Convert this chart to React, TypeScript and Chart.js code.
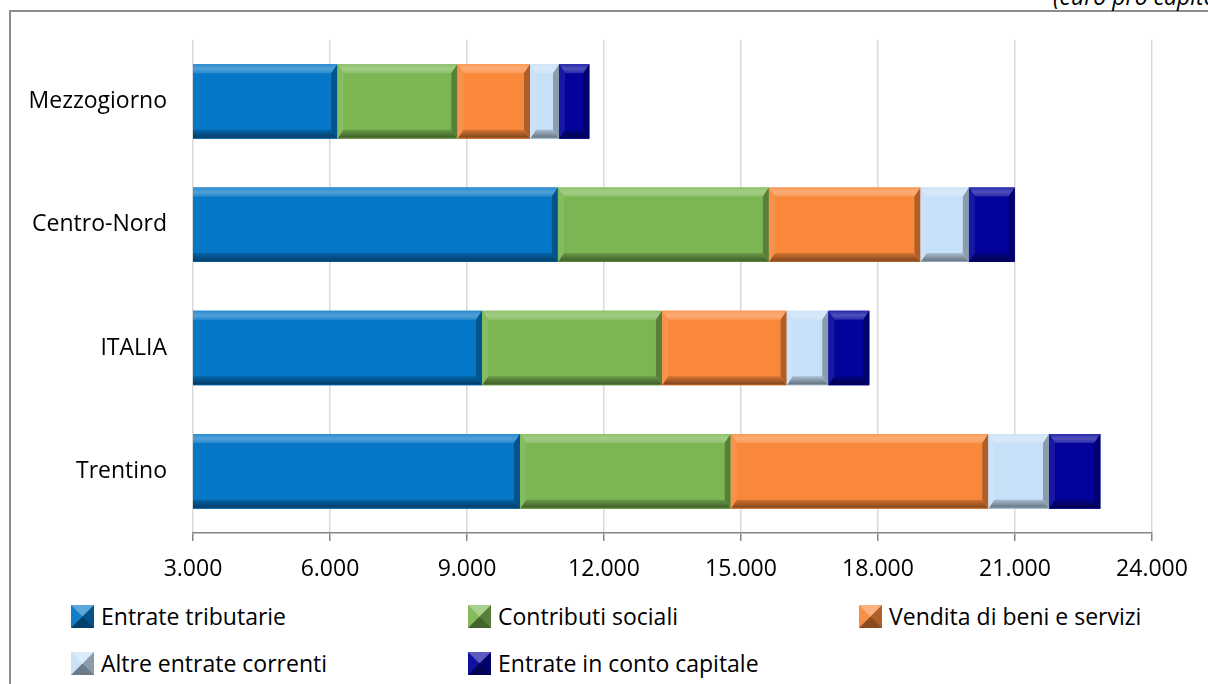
import React, { useEffect, useRef } from 'react';
import { Chart, registerables } from 'chart.js';

Chart.register(...registerables);

// ---- data ----
const categories = ['Mezzogiorno', 'Centro-Nord', 'ITALIA', 'Trentino'];
const seriesNames = [
  'Entrate tributarie',
  'Contributi sociali',
  'Vendita di beni e servizi',
  'Altre entrate correnti',
  'Entrate in conto capitale',
];
const entrateTributarie = [6160, 10990, 9330, 10160];
const contributiSociali = [2630, 4620, 3940, 4615];
const venditaBeniServizi = [1590, 3320, 2730, 5640];
const altreEntrateCorrenti = [635, 1060, 910, 1330];
const entrateContoCapitale = [665, 1005, 900, 1125];
const seriesValues = [
  entrateTributarie,
  contributiSociali,
  venditaBeniServizi,
  altreEntrateCorrenti,
  entrateContoCapitale,
];
const seriesColors = ['#0677C7', '#7CB652', '#F9883B', '#C6E0F7', '#03039C'];
const axisMin = 3000;
const axisMax = 24000;
const axisStep = 3000;
const unitNote = '(euro pro capite)';

// ---- helpers ----
const FONT = '"Open Sans", "Noto Sans", sans-serif';
const W = 1208;
const CH = 600;

function shade(hex: string, amt: number): string {
  const n = parseInt(hex.slice(1), 16);
  let r = (n >> 16) & 255;
  let g = (n >> 8) & 255;
  let b = n & 255;
  if (amt >= 0) {
    r = r + (255 - r) * amt;
    g = g + (255 - g) * amt;
    b = b + (255 - b) * amt;
  } else {
    r = r * (1 + amt);
    g = g * (1 + amt);
    b = b * (1 + amt);
  }
  return `rgb(${Math.round(r)},${Math.round(g)},${Math.round(b)})`;
}

function fmt(v: number | string): string {
  const s = Math.round(Number(v)).toString();
  return s.replace(/\B(?=(\d{3})+(?!\d))/g, '.');
}

const bevelPlugin = {
  id: 'bevel',
  afterDatasetsDraw(chart: any) {
    const ctx: CanvasRenderingContext2D = chart.ctx;
    const a = chart.chartArea;
    ctx.save();
    ctx.beginPath();
    ctx.rect(a.left, a.top, a.right - a.left, a.bottom - a.top);
    ctx.clip();
    const poly = (pts: number[][], fill: any) => {
      ctx.beginPath();
      ctx.moveTo(pts[0][0], pts[0][1]);
      for (let i = 1; i < pts.length; i++) ctx.lineTo(pts[i][0], pts[i][1]);
      ctx.closePath();
      ctx.fillStyle = fill;
      ctx.fill();
    };
    chart.data.datasets.forEach((ds: any, i: number) => {
      const meta = chart.getDatasetMeta(i);
      const col = ds.backgroundColor as string;
      meta.data.forEach((el: any) => {
        const p = el.getProps(['x', 'y', 'base', 'height'], true);
        const L = Math.min(p.x, p.base);
        const R = Math.max(p.x, p.base);
        const T = p.y - p.height / 2;
        const B = p.y + p.height / 2;
        const w = R - L;
        const bv = Math.min(9, p.height / 2);
        const bh = Math.min(6, w / 2);
        // top
        const gt = ctx.createLinearGradient(0, T, 0, T + bv);
        gt.addColorStop(0, shade(col, 0.15));
        gt.addColorStop(0.5, shade(col, 0.3));
        gt.addColorStop(1, shade(col, 0.15));
        poly([[L, T], [R, T], [R - bh, T + bv], [L + bh, T + bv]], gt);
        // bottom
        const gb = ctx.createLinearGradient(0, B - bv, 0, B);
        gb.addColorStop(0, shade(col, -0.15));
        gb.addColorStop(0.8, shade(col, -0.45));
        gb.addColorStop(1, shade(col, -0.2));
        poly([[L, B], [R, B], [R - bh, B - bv], [L + bh, B - bv]], gb);
        // left
        poly([[L, T], [L + bh, T + bv], [L + bh, B - bv], [L, B]], shade(col, 0.08));
        // right
        poly([[R, T], [R - bh, T + bv], [R - bh, B - bv], [R, B]], shade(col, -0.3));
      });
    });
    ctx.restore();
  },
};

const legendCols = [71, 468, 859];
const legendRows = [616, 663];

export default function App() {
  const ref = useRef<HTMLCanvasElement>(null);

  useEffect(() => {
    if (!ref.current) return;
    const font = { family: FONT, size: 23 };
    const chart = new Chart(ref.current, {
      type: 'bar',
      data: {
        labels: categories,
        datasets: seriesNames.map((name, i) => ({
          label: name,
          data: seriesValues[i],
          backgroundColor: seriesColors[i],
          borderWidth: 0,
          barPercentage: 0.605,
          categoryPercentage: 1,
        })),
      },
      options: {
        indexAxis: 'y',
        animation: false,
        responsive: false,
        maintainAspectRatio: false,
        layout: { padding: { left: 0, top: 38, right: 56, bottom: 0 } },
        plugins: {
          legend: { display: false },
          tooltip: { enabled: false },
          title: { display: false },
        },
        scales: {
          x: {
            type: 'linear',
            stacked: true,
            min: axisMin,
            max: axisMax,
            ticks: {
              stepSize: axisStep,
              callback: (v: any) => fmt(v),
              font,
              color: '#000',
              padding: 15,
              maxRotation: 0,
              autoSkip: false,
            },
            grid: {
              color: '#d9d9d9',
              lineWidth: 1.5,
              tickColor: '#868686',
              tickLength: 8,
              tickWidth: 1.5,
            },
            border: { color: '#868686', width: 1.5 },
            afterFit: (s: any) => {
              s.height = CH - 533;
            },
          },
          y: {
            stacked: true,
            grid: { display: false, drawTicks: false },
            border: { display: false },
            ticks: { font, color: '#000', padding: 26 },
            afterFit: (s: any) => {
              s.width = 193;
            },
          },
        },
      } as any,
      plugins: [bevelPlugin],
    });
    return () => chart.destroy();
  }, []);

  return (
    <div
      style={{
        position: 'fixed',
        left: 0,
        top: 0,
        width: W,
        height: 684,
        overflow: 'hidden',
        background: '#fff',
        fontFamily: FONT,
      }}
    >
      <div
        style={{
          position: 'absolute',
          left: 9,
          top: 10,
          width: 1400,
          height: 900,
          border: '2px solid #8c8c8c',
          boxSizing: 'border-box',
        }}
      />
      <span
        style={{
          position: 'absolute',
          left: 1053,
          top: -15,
          fontStyle: 'italic',
          fontSize: 23,
          lineHeight: '22px',
          whiteSpace: 'nowrap',
          color: '#000',
        }}
      >
        {unitNote}
      </span>
      <canvas
        ref={ref}
        width={W}
        height={CH}
        style={{ position: 'absolute', left: 0, top: 0, width: W, height: CH }}
      />
      {seriesNames.map((name, i) => {
        const col = i % 3;
        const row = Math.floor(i / 3);
        const c = seriesColors[i];
        return (
          <div
            key={name}
            style={{
              position: 'absolute',
              left: legendCols[col],
              top: legendRows[row] - 15,
              height: 30,
              display: 'flex',
              alignItems: 'center',
              whiteSpace: 'nowrap',
            }}
          >
            <div
              style={{
                width: 1,
                height: 1,
                borderStyle: 'solid',
                borderWidth: 11,
                borderTopColor: shade(c, 0.35),
                borderLeftColor: shade(c, 0.05),
                borderRightColor: shade(c, -0.3),
                borderBottomColor: shade(c, -0.45),
                background: c,
                flex: 'none',
              }}
            />
            <span style={{ marginLeft: 7, fontSize: 23, color: '#000', lineHeight: '30px' }}>
              {name}
            </span>
          </div>
        );
      })}
    </div>
  );
}
